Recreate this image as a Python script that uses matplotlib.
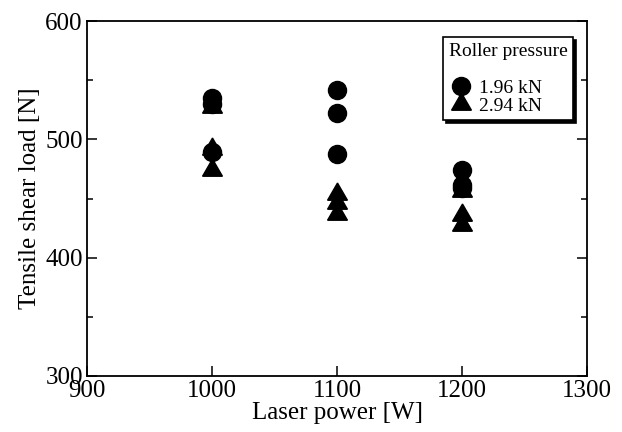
import matplotlib
matplotlib.use("Agg")
import matplotlib.pyplot as plt
from matplotlib.ticker import MultipleLocator

plt.rcParams['font.family'] = ['Liberation Serif', 'DejaVu Serif']
plt.rcParams['mathtext.fontset'] = 'stix'

# Data
power_196 = [1000, 1000, 1000, 1100, 1100, 1100, 1200, 1200, 1200]
load_196 = [535, 530, 489, 542, 522, 488, 474, 461, 459]
power_294 = [1000, 1000, 1000, 1100, 1100, 1100, 1200, 1200, 1200]
load_294 = [527, 492, 474, 454, 446, 437, 456, 436, 428]
series_labels = ['1.96 kN', '2.94 kN']
legend_title = 'Roller pressure'

fig = plt.figure(figsize=(6.22, 4.32), dpi=100)
ax = fig.add_axes([87/622, 56/432, 500/622, 355/432])

ax.plot(power_196, load_196, linestyle='none', marker='o', markersize=13,
        color='black', label=series_labels[0])
ax.plot(power_294, load_294, linestyle='none', marker=(3, 0, 0), markersize=16.5,
        color='black', label=series_labels[1])

ax.set_xlim(900, 1300)
ax.set_ylim(300, 600)
ax.xaxis.set_major_locator(MultipleLocator(100))
ax.yaxis.set_major_locator(MultipleLocator(100))
ax.yaxis.set_minor_locator(MultipleLocator(50))

ax.tick_params(axis='both', which='both', direction='in', labelsize=18, width=1.1)
ax.tick_params(axis='x', which='major', length=7, top=False, pad=3)
ax.tick_params(axis='y', which='major', length=7, right=True, pad=3)
ax.tick_params(axis='y', which='minor', length=4, right=True)
for s in ax.spines.values():
    s.set_linewidth(1.3)

ax.set_xlabel('Laser power [W]', fontsize=18, labelpad=0)
ax.set_ylabel('Tensile shear load [N]', fontsize=18, labelpad=3)

leg = ax.legend(title=legend_title + '\n', loc='upper left',
                bbox_to_anchor=(356/500, 1 - 16/355),
                fontsize=14, title_fontsize=14, frameon=True, fancybox=False,
                edgecolor='black', shadow={'color': 'black', 'alpha': 1},
                handletextpad=0.25, borderpad=0.3, labelspacing=0.0,
                handlelength=1.3, borderaxespad=0, alignment='left')
leg.get_frame().set_linewidth(1.2)

fig.savefig('out.png', dpi=100)
